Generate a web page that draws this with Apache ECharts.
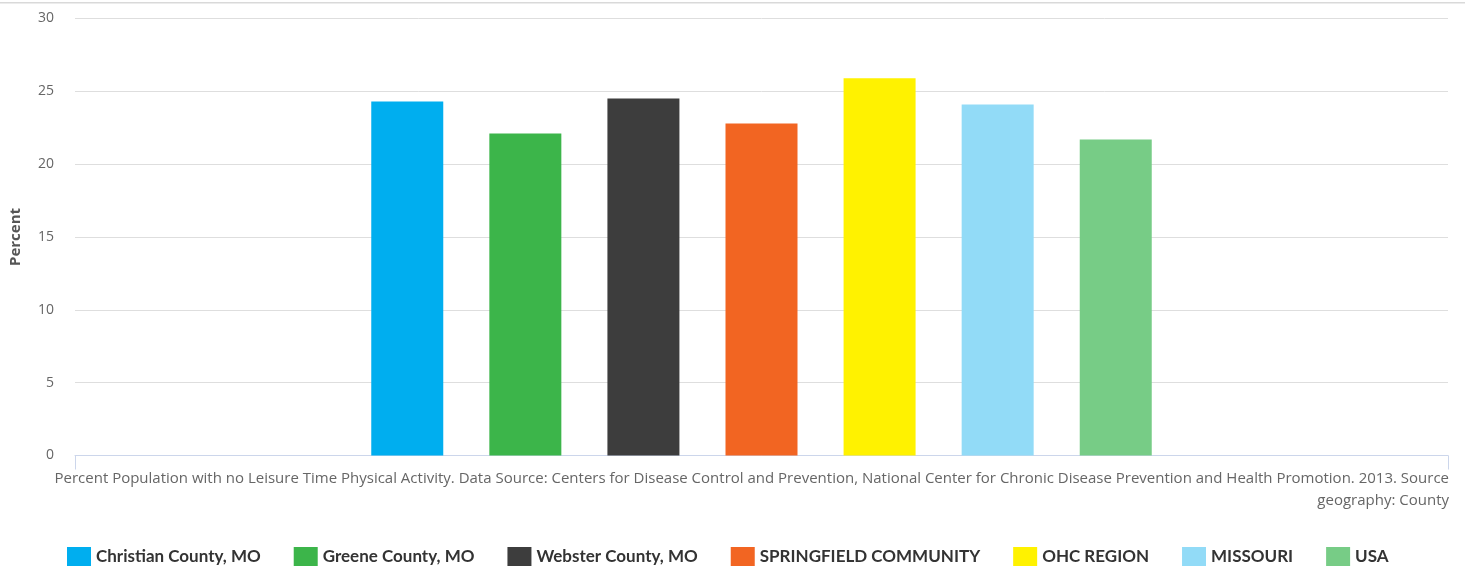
<!DOCTYPE html>
<html>
<head>
<meta charset="utf-8">
<script src="https://cdn.jsdelivr.net/npm/echarts@6/dist/echarts.min.js"></script>
<style>
html,body{margin:0;padding:0;background:#fff;}
#chart{width:1465px;height:570px;}
</style>
</head>
<body>
<div id="chart"></div>
<script>
var categories = ['Percent Population with no Leisure Time Physical Activity. Data Source: Centers for Disease Control and Prevention, National Center for Chronic Disease Prevention and Health Promotion. 2013. Source geography: County'];
var seriesNames = ['Christian County, MO', 'Greene County, MO', 'Webster County, MO', 'SPRINGFIELD COMMUNITY', 'OHC REGION', 'MISSOURI', 'USA'];
var seriesValues = [24.3, 22.1, 24.5, 22.8, 25.9, 24.1, 21.7];
var seriesColors = ['#00aeef', '#3cb54a', '#3d3d3d', '#f26522', '#fff200', '#92dbf7', '#77cc86'];
var yTicks = [0, 5, 10, 15, 20, 25, 30];

var font = 'Lato, "Noto Sans", sans-serif';
var labelFont = '"Open Sans", "Noto Sans", sans-serif';
var chart = echarts.init(document.getElementById('chart'));
var series = seriesNames.map(function (n, i) {
  return {
    name: n,
    type: 'bar',
    data: [seriesValues[i]],
    barWidth: 72,
    barGap: '64%',
    itemStyle: { color: seriesColors[i] },
    emphasis: { disabled: true }
  };
});
chart.setOption({
  animation: false,
  graphic: [{ type: 'rect', shape: { x: 0, y: 2, width: 1465, height: 1.5 }, style: { fill: '#d9d9d9' }, silent: true }],
  grid: { left: 73, right: 17, top: 18.5, bottom: 114.5, containLabel: false },
  legend: {
    left: 62, top: 542, itemWidth: 24, itemHeight: 19, itemGap: 33,
    icon: 'rect',
    textStyle: { fontFamily: font, fontWeight: 'bold', fontSize: 17, color: '#333', padding: [0, 0, 0, 0] },
    data: seriesNames
  },
  xAxis: {
    type: 'category', data: categories,
    axisLine: { lineStyle: { color: '#ccd6eb' } },
    axisTick: { show: true, alignWithLabel: false, length: 14, lineStyle: { color: '#ccd6eb' } },
    axisLabel: {
      interval: 0, margin: 12, width: 1398, overflow: 'break', padding: [0, 23, 0, 0],
      formatter: function (v) { return '{a|' + v + '}'; },
      rich: { a: { align: 'right', fontFamily: labelFont, fontSize: 15, color: '#666', lineHeight: 22 } }
    }
  },
  yAxis: {
    type: 'value', min: yTicks[0], max: yTicks[yTicks.length - 1], interval: 5,
    name: 'Percent', nameLocation: 'middle', nameGap: 52, nameRotate: 90,
    nameTextStyle: { fontFamily: labelFont, fontWeight: 'bold', fontSize: 15, color: '#555' },
    axisLine: { show: false }, axisTick: { show: false },
    axisLabel: { fontFamily: labelFont, fontSize: 14, color: '#666', margin: 21 },
    splitLine: { lineStyle: { color: '#dedede', width: 1 } }
  },
  series: series
});
</script>
</body>
</html>
